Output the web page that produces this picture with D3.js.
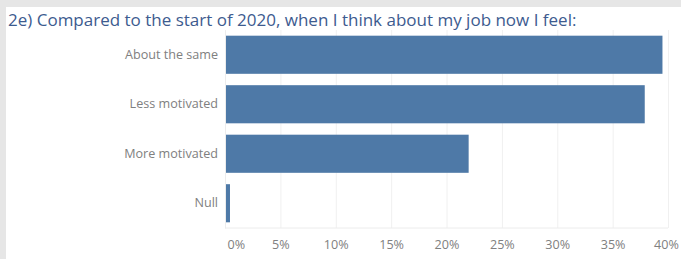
<!DOCTYPE html>
<html>
<head>
<meta charset="utf-8">
<script src="https://cdn.jsdelivr.net/npm/d3@7"></script>
<style>
  html, body { margin: 0; padding: 0; background: #e6e6e6; }
  #graf { position: absolute; left: 6px; top: 7px; width: 675px; height: 252px; background: #fff; }
</style>
</head>
<body>
<div id="graf"></div>
<script>
// -- Datos
categorias = ['About the same', 'Less motivated', 'More motivated', 'Null']
porcentajes = [0.395, 0.379, 0.220, 0.0045]
ticksX = [0, 0.05, 0.10, 0.15, 0.20, 0.25, 0.30, 0.35, 0.40]
titulo = '2e) Compared to the start of 2020, when I think about my job now I feel:'

ancho_total = 675
alto_total = 252

margins = {top: 23, left: 219, right: 13, bottom: 31}
ancho = ancho_total - margins.left - margins.right
alto = alto_total - margins.top - margins.bottom

svg = d3.select('#graf').append('svg')
        .attr('width', ancho_total)
        .attr('height', alto_total)

// -- Título
svg.append('text')
    .attr('x', 2)
    .attr('y', 19)
    .attr('font-family', 'Open Sans, sans-serif')
    .attr('font-size', '17px')
    .attr('fill', '#3d5b8f')
    .text(titulo)

g = svg.append('g')
        .attr('transform', `translate(${margins.left}, ${margins.top})`)

// -- Escaladores
x = d3.scaleLinear().domain([0, 0.40]).range([0, ancho])
y = d3.scaleBand().domain(categorias).range([0, alto]).paddingInner(0.23).paddingOuter(0.115)

// -- Grid
g.append('g')
    .call(d3.axisBottom(x).tickValues(ticksX).tickFormat('').tickSize(-alto))
    .attr('transform', `translate(0,${alto})`)
    .call(s => s.select('.domain').remove())
    .call(s => s.selectAll('line').attr('stroke', '#f0f0f0'))

// -- Línea base
g.append('line')
    .attr('x1', 0).attr('x2', ancho)
    .attr('y1', alto).attr('y2', alto)
    .attr('stroke', '#ececec')

// -- Barras
g.selectAll('rect.barra')
    .data(categorias)
    .enter()
    .append('rect')
    .attr('class', 'barra')
    .attr('x', x(0))
    .attr('y', d => y(d))
    .attr('width', (d, i) => x(porcentajes[i]) - x(0))
    .attr('height', y.bandwidth())
    .attr('fill', '#4e79a7')

// -- Eje X
ejeX = g.append('g')
    .attr('transform', `translate(0,${alto})`)
    .call(d3.axisBottom(x).tickValues(ticksX).tickFormat(d3.format('.0%')).tickSize(0).tickPadding(12))
ejeX.select('.domain').remove()
ejeX.selectAll('text')
    .attr('font-family', 'Open Sans, sans-serif')
    .attr('font-size', '12.6px')
    .attr('fill', '#808080')
// el primer rótulo no se corta: se alinea a la izquierda
ejeX.selectAll('text').filter(d => d === 0)
    .attr('text-anchor', 'start')
    .attr('x', 2)
ejeX.selectAll('text').filter(d => d === 0.40)
    .attr('x', -2)

// -- Eje Y
ejeY = g.append('g')
    .call(d3.axisLeft(y).tickSize(0).tickPadding(7))
ejeY.select('.domain').attr('stroke', '#ececec')
ejeY.selectAll('text')
    .attr('font-family', 'Open Sans, sans-serif')
    .attr('font-size', '12.6px')
    .attr('fill', '#808080')
</script>
</body>
</html>
